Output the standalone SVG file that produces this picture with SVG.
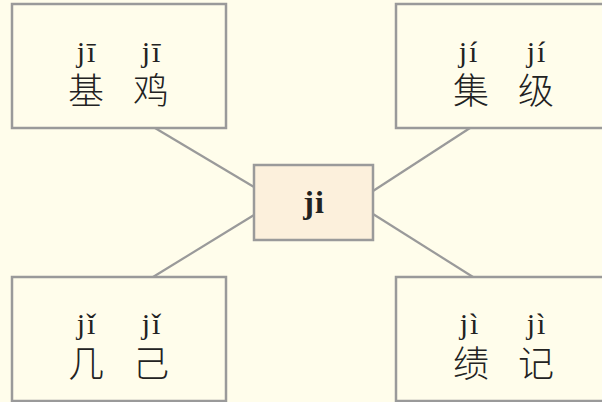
<svg xmlns="http://www.w3.org/2000/svg" width="602" height="402" viewBox="0 0 602 402">
<style>
.box{fill:#fffdeb;stroke:#9a9a9a;stroke-width:2.5}
.center{fill:#fcf0dc;stroke:#9a9a9a;stroke-width:2.5}
.py{font-family:"Liberation Serif","DejaVu Serif",serif;font-size:30px;letter-spacing:2px;fill:#222;text-anchor:middle}
.hz{font-family:"Noto Sans CJK SC","Noto Sans CJK JP",sans-serif;font-size:36px;font-weight:300;fill:#222;text-anchor:middle}
.ctr{font-family:"Liberation Serif","DejaVu Serif",serif;font-size:32px;font-weight:bold;letter-spacing:1px;fill:#222;text-anchor:middle}
.conn{stroke:#9a9a9a;stroke-width:2.2;fill:none}
</style>
<rect x="0" y="0" width="602" height="402" fill="#fffdeb"/>
<g id="connectors">
<line class="conn" x1="155" y1="128" x2="254" y2="187"/>
<line class="conn" x1="470" y1="128" x2="373" y2="191"/>
<line class="conn" x1="153" y1="277" x2="254" y2="215"/>
<line class="conn" x1="473" y1="277" x2="373" y2="214"/>
</g>
<g id="node-tl">
<rect class="box" x="12" y="4" width="214" height="124"/>
<text class="py" x="87" y="62">jī</text>
<text class="py" x="152" y="62">jī</text>
<text class="hz" x="86" y="104">基</text>
<text class="hz" x="151" y="104">鸡</text>
</g>
<g id="node-tr">
<rect class="box" x="396" y="4" width="214" height="124"/>
<text class="py" x="469" y="62">jí</text>
<text class="py" x="537" y="62">jí</text>
<text class="hz" x="471" y="104">集</text>
<text class="hz" x="536" y="104">级</text>
</g>
<g id="node-bl">
<rect class="box" x="12" y="277" width="214" height="124"/>
<text class="py" x="87" y="334">jǐ</text>
<text class="py" x="152" y="334">jǐ</text>
<text class="hz" x="86" y="377">几</text>
<text class="hz" x="151" y="377">己</text>
</g>
<g id="node-br">
<rect class="box" x="396" y="277" width="214" height="124"/>
<text class="py" x="470" y="334">jì</text>
<text class="py" x="537" y="334">jì</text>
<text class="hz" x="471" y="377">绩</text>
<text class="hz" x="536" y="377">记</text>
</g>
<g id="node-center">
<rect class="center" x="254" y="165" width="119" height="75"/>
<text class="ctr" x="314" y="213">ji</text>
</g>
</svg>
